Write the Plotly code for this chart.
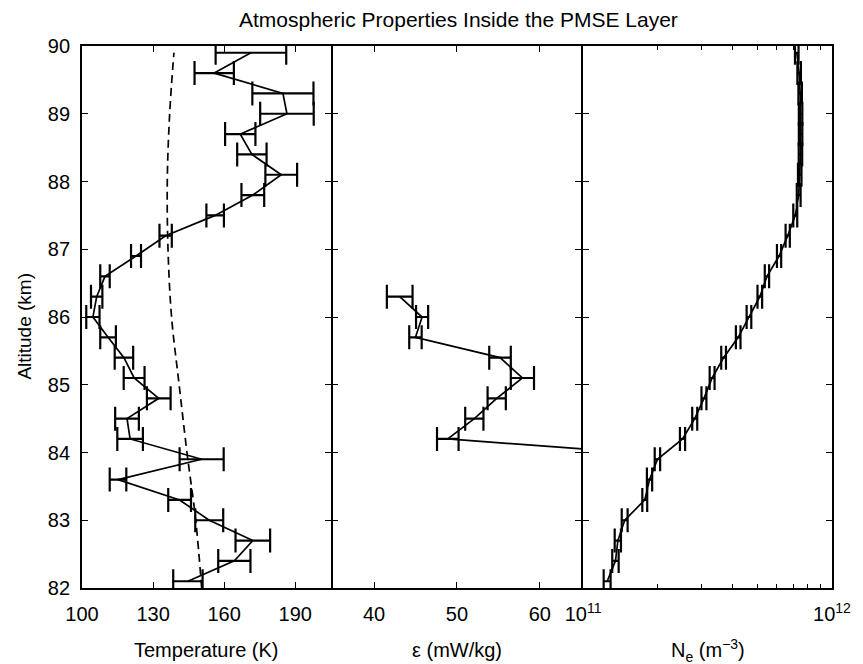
import plotly.graph_objects as go

# ---------------- data ----------------
altitude_km = [82.1, 82.4, 82.7, 83.0, 83.3, 83.6, 83.9, 84.2, 84.5, 84.8, 85.1, 85.4,
               85.7, 86.0, 86.3, 86.6, 86.9, 87.2, 87.5, 87.8, 88.1, 88.4, 88.7, 89.0,
               89.3, 89.6, 89.9]

temperature_K = [144.7, 164.3, 172.1, 153.7, 141.2, 115.2, 150.5, 120.3, 119.0, 132.4,
                 122.0, 117.7, 111.0, 104.6, 106.2, 109.7, 122.8, 135.3, 156.2, 172.1,
                 184.1, 171.7, 166.8, 186.5, 184.8, 155.8, 171.3]
temperature_err_K = [6.2, 6.8, 7.3, 5.9, 4.8, 3.5, 9.3, 5.4, 5.0, 5.0, 4.4, 3.9, 3.3, 2.8,
                     2.4, 2.0, 2.1, 2.6, 3.7, 4.8, 6.7, 6.2, 6.4, 11.3, 12.9, 8.3, 14.9]

model_alt_km = [82.0, 83.0, 84.0, 85.0, 86.0, 87.0, 88.0, 89.0, 89.9]
model_temperature_K = [150.5, 148.0, 144.3, 141.0, 137.8, 136.3, 136.0, 137.0, 138.8]

eps_alt_km = [83.9, 84.2, 84.5, 84.8, 85.1, 85.4, 85.7, 86.0, 86.3]
epsilon_mW_kg = [82.0, 48.9, 52.1, 54.8, 57.9, 55.2, 45.0, 45.8, 43.1]
epsilon_err = [2.0, 1.3, 1.1, 1.1, 1.4, 1.3, 0.75, 0.73, 1.55]

ne_m3 = [1.25e11, 1.35e11, 1.38e11, 1.47e11, 1.77e11, 1.85e11, 1.99e11, 2.51e11, 2.81e11,
         3.06e11, 3.30e11, 3.67e11, 4.20e11, 4.64e11, 5.13e11, 5.48e11, 6.13e11, 6.64e11,
         7.12e11, 7.35e11, 7.42e11, 7.47e11, 7.48e11, 7.48e11, 7.45e11, 7.38e11, 7.22e11]
ne_err_m3 = [0.04e11, 0.04e11, 0.04e11, 0.04e11, 0.04e11, 0.045e11, 0.05e11, 0.06e11,
             0.065e11, 0.07e11, 0.075e11, 0.08e11, 0.09e11, 0.10e11, 0.11e11, 0.11e11,
             0.12e11, 0.13e11, 0.13e11, 0.13e11, 0.12e11, 0.12e11, 0.12e11, 0.12e11,
             0.12e11, 0.12e11, 0.12e11]

temp_ticks = [100, 130, 160, 190]
eps_ticks = [40, 50, 60]
ne_ticks = [1e11, 1e12]
ne_ticktext = ["10<sup>11</sup>", "10<sup>12</sup>"]
ne_minor = [2e11, 3e11, 4e11, 5e11, 6e11, 7e11, 8e11, 9e11]
alt_ticks = [82, 83, 84, 85, 86, 87, 88, 89, 90]

# ---------------- figure ----------------
FONT = "Arial"
LW = 1.8
LINE = dict(color="black", width=1.7)
ERR = dict(type="data", color="black", thickness=2.2, width=12)

# panel domains: a gap of one axis-line width so adjacent frame lines coincide
PLOT_W = 758
G = LW / PLOT_W
d1 = [0, 0.3317]
d2 = [0.3317 + G, 0.6657]
d3 = [0.6657 + G, 1]

fig = go.Figure()
fig.add_trace(go.Scatter(x=temperature_K, y=altitude_km, mode="lines", line=LINE,
                         error_x=dict(ERR, array=temperature_err_K),
                         xaxis="x", yaxis="y"))
fig.add_trace(go.Scatter(x=model_temperature_K, y=model_alt_km, mode="lines",
                         line=dict(color="black", width=1.7, dash="8px,5px", shape="spline"),
                         xaxis="x", yaxis="y"))
fig.add_trace(go.Scatter(x=epsilon_mW_kg, y=eps_alt_km, mode="lines", line=LINE,
                         error_x=dict(ERR, array=epsilon_err),
                         xaxis="x2", yaxis="y2"))
fig.add_trace(go.Scatter(x=ne_m3, y=altitude_km, mode="lines", line=LINE,
                         error_x=dict(ERR, array=ne_err_m3),
                         xaxis="x3", yaxis="y3"))

common = dict(showline=True, linecolor="black", linewidth=LW, mirror="ticks",
              ticks="inside", ticklen=6, tickwidth=1.3, tickcolor="black",
              showgrid=False, zeroline=False,
              tickfont=dict(family=FONT, size=20, color="black"))
xcommon = dict(common, ticklabelstandoff=7)
ycommon = dict(common, range=[82, 90], tickvals=alt_ticks)

fig.update_layout(
    width=863, height=664,
    margin=dict(l=82, r=23, t=46, b=76),
    paper_bgcolor="white", plot_bgcolor="white",
    showlegend=False,
    font=dict(family=FONT, color="black"),
    xaxis=dict(xcommon, domain=d1, range=[100, 205], tickvals=temp_ticks, anchor="y"),
    xaxis2=dict(xcommon, domain=d2, range=[35, 65], tickvals=eps_ticks, anchor="y2"),
    xaxis3=dict(xcommon, domain=d3, type="log", range=[11, 12],
                tickvals=ne_ticks, ticktext=ne_ticktext, anchor="y3",
                minor=dict(tickvals=ne_minor, ticks="inside", ticklen=4,
                           tickwidth=1.2, tickcolor="black")),
    yaxis=dict(ycommon, anchor="x", ticklabelstandoff=6),
    yaxis2=dict(ycommon, anchor="x2", matches="y", showticklabels=False),
    yaxis3=dict(ycommon, anchor="x3", matches="y", showticklabels=False),
)

ann_font = dict(family=FONT, size=20, color="black")
ttl_y = -(650 - 588) / 542
fig.add_annotation(text="Atmospheric Properties Inside the PMSE Layer", xref="paper", yref="paper",
                   x=0.502, y=1 + (46 - 20) / 542, xanchor="center", yanchor="middle",
                   showarrow=False, font=dict(family=FONT, size=21, color="black"))
fig.add_annotation(text="Temperature (K)", xref="paper", yref="paper", x=(208 - 82) / PLOT_W,
                   y=ttl_y, xanchor="center", yanchor="middle",
                   showarrow=False, font=ann_font)
fig.add_annotation(text="ε (mW/kg)", xref="paper", yref="paper", x=(461 - 82) / PLOT_W,
                   y=ttl_y, xanchor="center", yanchor="middle",
                   showarrow=False, font=ann_font)
fig.add_annotation(text="N<sub>e</sub> (m<sup>−3</sup>)", xref="paper", yref="paper",
                   x=(715 - 82) / PLOT_W, y=ttl_y, xanchor="center", yanchor="middle",
                   showarrow=False, font=ann_font)
fig.add_annotation(text="Altitude (km)", xref="paper", yref="paper", x=(23 - 82) / PLOT_W,
                   y=(588 - 326) / 542, xanchor="center", yanchor="middle", textangle=-90,
                   showarrow=False, font=dict(family=FONT, size=19, color="black"))

fig.write_html("out.html")
